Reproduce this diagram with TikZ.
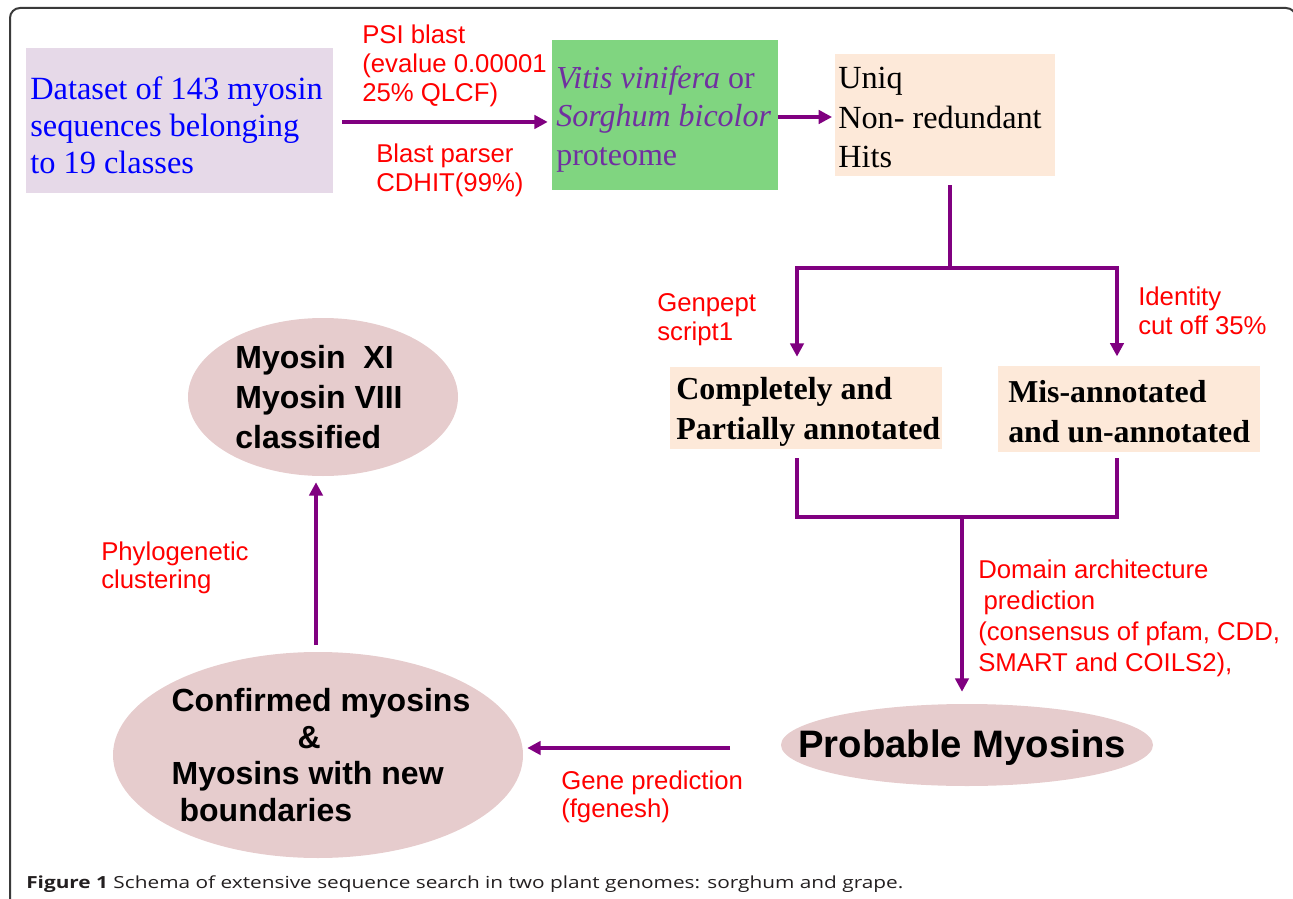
\documentclass[tikz,border=0pt]{standalone}
\usepackage{graphicx}
\usepackage{fontspec}
\setmainfont{Liberation Serif}
\setsansfont{Liberation Sans}
\newfontfamily\capfont{Open Sans}
\usetikzlibrary{shapes.geometric,arrows.meta,calc}
\definecolor{lav}{HTML}{E6D9E8}
\definecolor{grn}{HTML}{80D580}
\definecolor{peach}{HTML}{FDE9D9}
\definecolor{ellfill}{HTML}{E6CCCD}
\definecolor{purp}{HTML}{800080}
\definecolor{vio}{HTML}{7030A0}
\definecolor{lbl}{HTML}{FF0000}
\definecolor{dsblue}{HTML}{0000FF}
\definecolor{framec}{HTML}{3A3A3A}
\definecolor{capc}{HTML}{231F20}
\begin{document}
\begin{tikzpicture}[x=0.75pt,y=-0.75pt,
  boxnode/.style={rectangle, inner sep=0pt},
  btext/.style={anchor=west, align=left, inner sep=0pt},
  ellnode/.style={ellipse, fill=ellfill, inner sep=0pt},
  etext/.style={align=left, inner sep=0pt, font=\sffamily\bfseries\fontsize{24}{30}\selectfont},
  lab/.style={text=lbl, font=\sffamily\fontsize{19.3}{21.5}\selectfont, align=left, anchor=west, inner sep=0pt},
  ln/.style={draw=purp, line width=3pt},
  arr/.style={draw=purp, line width=3pt, -{Triangle[length=10pt,width=10pt]}}]
\useasboundingbox (0,0) rectangle (1293,899);
% frame
\draw[framec, line width=1.5pt, rounded corners=7.5pt] (10,905) -- (10,8) -- (1296,8) -- (1296,905);

% boxes
\node[boxnode, fill=lav, minimum width=230.25pt, minimum height=108.75pt] (b1) at (179.5,120.5) {};
\node[btext, text=dsblue, font=\fontsize{24.3}{27.75}\selectfont] (b1t) at (30,125.5)
  {Dataset of 143 myosin\\sequences belonging\\to 19 classes};
\node[boxnode, fill=grn, minimum width=169.5pt, minimum height=112.5pt] (green) at (665,115) {};
\node[btext, text=vio, font=\fontsize{24}{29}\selectfont] (greent) at (556,119)
  {\textit{Vitis vinifera} or\\\textit{Sorghum bicolor}\\proteome};
\node[boxnode, fill=peach, minimum width=165pt, minimum height=91.5pt] (uniq) at (945,115) {};
\node[btext, font=\fontsize{24.2}{29.5}\selectfont] (uniqt) at (838,117.5)
  {Uniq\\Non- redundant\\Hits};
\node[boxnode, fill=peach, minimum width=204pt, minimum height=61.5pt] (comp) at (806,408) {};
\node[btext, font=\bfseries\fontsize{24}{30}\selectfont] (compt) at (676,412)
  {Completely and\\Partially annotated};
\node[boxnode, fill=peach, minimum width=196.5pt, minimum height=64.5pt] (mis) at (1129,409) {};
\node[btext, font=\bfseries\fontsize{23.9}{30}\selectfont] (mist) at (1008,412)
  {Mis-annotated\\and un-annotated};

% ellipses
\node[ellnode, minimum width=279pt, minimum height=61.5pt] (prob) at (967,745) {};
\node[etext, font=\sffamily\bfseries\fontsize{28.7}{34}\selectfont] (probt) at (962,748) {Probable Myosins};
\node[ellnode, minimum width=307.5pt, minimum height=154.5pt] (conf) at (318,755) {};
\node[etext, font=\sffamily\bfseries\fontsize{24}{27.5}\selectfont] (conft) at (321,755)
  {Confirmed myosins\\\hspace*{94.5pt}\&\\Myosins with new\\\hspace*{6pt}boundaries};
\node[ellnode, minimum width=202.5pt, minimum height=118.5pt] (xi) at (323,397) {};
\node[etext] (xit) at (319,397) {Myosin\ \ XI\\Myosin VIII\\classified};

% labels
\node[lab] (l1) at (362,66) {PSI blast\\(evalue 0.00001\\25\% QLCF)};
\node[lab] (l2) at (376,170.5) {Blast parser\\CDHIT(99\%)};
\node[lab] (l3) at (657,320) {Genpept\\script1};
\node[lab] (l4) at (1138,311) {Identity\\cut off 35\%};
\node[lab, font=\sffamily\fontsize{19.3}{23.25}\selectfont] (l5) at (978,618)
  {Domain architecture\\\hspace*{4pt}prediction\\(consensus of pfam, CDD,\\SMART and COILS2),};
\node[lab] (l6) at (561,797) {Gene prediction\\(fgenesh)};
\node[lab] (l7) at (101,568) {Phylogenetic\\clustering};

% caption
\node[anchor=west, inner sep=0pt, text=capc] (cap) at (26,884)
  {\resizebox{657.75pt}{\height}{\capfont\fontsize{12.5}{15}\selectfont\textbf{Figure 1} Schema of extensive sequence search in two plant genomes: sorghum and grape.}};

% connectors
\draw[arr, shorten <=6.75pt, shorten >=3pt] ([yshift=-1.1pt]b1.east) -- ([yshift=-1.1pt]b1.east -| green.west);
\draw[arr, shorten >=2pt] ([yshift=-1.5pt]green.east) -- ([yshift=-1.5pt]green.east -| uniq.west);

\coordinate (tl) at (797,268);
\coordinate (tr) at (1117,268);
\coordinate (tm) at (950,268);
\draw[ln] ($(uniq.south -| tm)+(0,9)$) -- (tm);
\draw[ln] ([xshift=-1.5pt]tl) -- ([xshift=1.5pt]tr);
\draw[arr, shorten >=7.5pt] (tl) -- (tl |- comp.north);
\draw[arr, shorten >=7pt] (tr) -- (tr |- mis.north);

\coordinate (bl) at (797,517);
\coordinate (br) at (1117,517);
\coordinate (bm) at (962,517);
\draw[ln, line join=miter] ($(comp.south -| bl)+(0,9)$) -- (bl) -- (br) -- ($(mis.south -| br)+(0,6)$);
\draw[arr, shorten >=9pt] (bm) -- (bm |- prob.north);

\draw[arr, shorten <=38pt, shorten >=3pt] ([yshift=-2.25pt]prob.west) -- ([yshift=-2.25pt]prob.west -| conf.east);
\draw[arr, shorten <=5pt, shorten >=4.5pt] ([xshift=-1.5pt]conf.north) -- ([xshift=-1.5pt]conf.north |- xi.south);
\end{tikzpicture}
\end{document}
